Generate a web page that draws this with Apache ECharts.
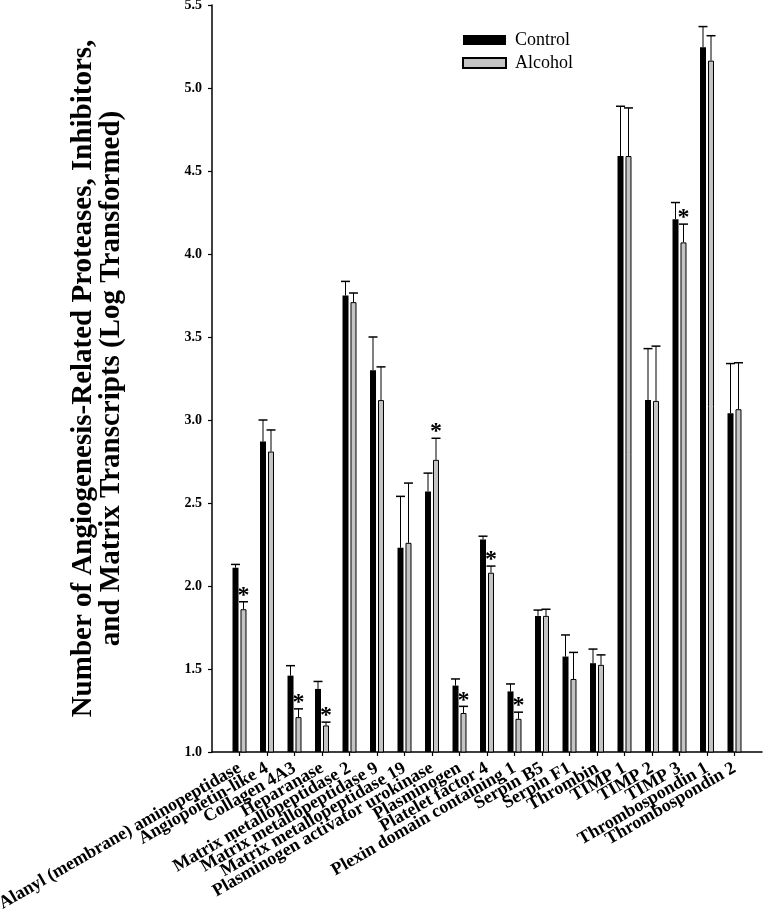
<!DOCTYPE html>
<html>
<head>
<meta charset="utf-8">
<script src="https://cdn.jsdelivr.net/npm/echarts@6/dist/echarts.min.js"></script>
<style>
  html, body { margin: 0; padding: 0; background: #fff; }
  #chart { width: 763px; height: 915px; }
</style>
</head>
<body>
<div id="chart"></div>
<script>
const categories = [
  'Alanyl (membrane) aminopeptidase', 'Angiopoietin-like 4', 'Collagen 4A3', 'Heparanase',
  'Matrix metallopeptidase 2', 'Matrix metallopeptidase 9', 'Matrix metallopeptidase 19',
  'Plasminogen activator urokinase', 'Plasminogen', 'Platelet factor 4',
  'Plexin domain containing 1', 'Serpin B5', 'Serpin F1', 'Thrombin',
  'TIMP 1', 'TIMP 2', 'TIMP 3', 'Thrombospondin 1', 'Thrombospondin 2'
];
const controlMean = [2.11, 2.87, 1.46, 1.38, 3.75, 3.30, 2.23, 2.57, 1.40, 2.28, 1.365, 1.82, 1.575, 1.535, 4.59, 3.12, 4.21, 5.245, 3.04];
const controlErr  = [0.02, 0.13, 0.06, 0.045, 0.085, 0.20, 0.31, 0.11, 0.04, 0.02, 0.045, 0.035, 0.13, 0.085, 0.30, 0.31, 0.10, 0.125, 0.30];
const alcoholMean = [1.86, 2.81, 1.21, 1.16, 3.71, 3.12, 2.26, 2.76, 1.235, 2.08, 1.20, 1.82, 1.44, 1.525, 4.59, 3.115, 4.07, 5.165, 3.065];
const alcoholErr  = [0.045, 0.13, 0.05, 0.02, 0.055, 0.20, 0.36, 0.13, 0.04, 0.04, 0.04, 0.04, 0.16, 0.06, 0.29, 0.33, 0.11, 0.15, 0.28];
const significant = [1, 0, 1, 1, 0, 0, 0, 1, 1, 1, 1, 0, 0, 0, 0, 0, 1, 0, 0];
const yTicks = { min: 1.0, max: 5.5, step: 0.5 };

const FONT = '"Liberation Serif", "Times New Roman", serif';
// padded category axis: blank slot at each end
const axisCats = [''].concat(categories, ['']);
const pad = arr => [null].concat(arr, [null]);

function errRender(offset) {
  return function (params, api) {
    const x = api.value(0), m = api.value(1), e = api.value(2), s = api.value(3);
    const base = api.coord([x, m]);
    const top = api.coord([x, m + e]);
    const cx = base[0] + offset;
    const children = [
      { type: 'line', shape: { x1: cx, y1: base[1], x2: cx, y2: top[1] }, style: { stroke: '#000', lineWidth: 1 } },
      { type: 'line', shape: { x1: cx - 4.5, y1: top[1], x2: cx + 4.5, y2: top[1] }, style: { stroke: '#000', lineWidth: 1.5 } }
    ];
    if (s) {
      children.push({
        type: 'text',
        style: { text: '*', x: cx, y: top[1] + 6, font: 'bold 24px ' + FONT, fill: '#000', align: 'center', verticalAlign: 'bottom' }
      });
    }
    return { type: 'group', children: children };
  };
}

const controlErrData = categories.map((c, i) => [i + 1, controlMean[i], controlErr[i], 0]);
const alcoholErrData = categories.map((c, i) => [i + 1, alcoholMean[i], alcoholErr[i], significant[i]]);

const chart = echarts.init(document.getElementById('chart'), null, { renderer: 'canvas' });
chart.setOption({
  animation: false,
  backgroundColor: '#fff',
  textStyle: { fontFamily: FONT },
  grid: { left: 212, right: 1, top: 5, bottom: 163, containLabel: false, outerBoundsMode: 'none' },
  legend: {
    data: ['Control', 'Alcohol'],
    orient: 'vertical',
    left: 462, top: 31,
    padding: 0,
    itemWidth: 43, itemHeight: 10, itemGap: 5,
    icon: 'rect',
    textStyle: { fontSize: 18, fontFamily: FONT, color: '#000', padding: [0, 0, 0, 4] }
  },
  xAxis: {
    type: 'category',
    data: axisCats,
    boundaryGap: false,
    axisLine: { lineStyle: { color: '#000', width: 1.5 } },
    axisTick: { show: true, length: 4, interval: (i, v) => v !== '', lineStyle: { color: '#000', width: 1.2 } },
    axisLabel: {
      interval: 0, rotate: 30, margin: 15,
      fontSize: 18, fontWeight: 'bold', fontFamily: FONT, color: '#000'
    },
    splitLine: { show: false }
  },
  yAxis: {
    type: 'value',
    min: yTicks.min, max: yTicks.max, interval: yTicks.step,
    name: 'Number of Angiogenesis-Related Proteases, Inhibitors,\nand Matrix Transcripts (Log Transformed)',
    nameLocation: 'middle',
    nameGap: 86,
    nameTextStyle: { fontSize: 29, fontWeight: 'bold', fontFamily: FONT, color: '#000', lineHeight: 28, align: 'center' },
    axisLine: { show: true, lineStyle: { color: '#000', width: 1.5 } },
    axisTick: { show: true, length: 4, lineStyle: { color: '#000', width: 1.2 } },
    axisLabel: { margin: 10, fontSize: 14, fontWeight: 'bold', fontFamily: FONT, color: '#000', formatter: v => v.toFixed(1) },
    splitLine: { show: false }
  },
  series: [
    {
      name: 'Control', type: 'bar', data: pad(controlMean),
      barWidth: 6, barGap: '33%',
      itemStyle: { color: '#000' },
      z: 2
    },
    {
      name: 'Alcohol', type: 'bar', data: pad(alcoholMean),
      barWidth: 6, barGap: '33%',
      itemStyle: { color: '#c4c4c4', borderColor: '#000', borderWidth: 1 },
      z: 2
    },
    {
      name: 'ControlErr', type: 'custom', data: controlErrData,
      renderItem: errRender(-4), encode: { x: 0, y: 1 }, z: 3, silent: true
    },
    {
      name: 'AlcoholErr', type: 'custom', data: alcoholErrData,
      renderItem: errRender(4), encode: { x: 0, y: 1 }, z: 3, silent: true
    }
  ]
});
</script>
</body>
</html>
